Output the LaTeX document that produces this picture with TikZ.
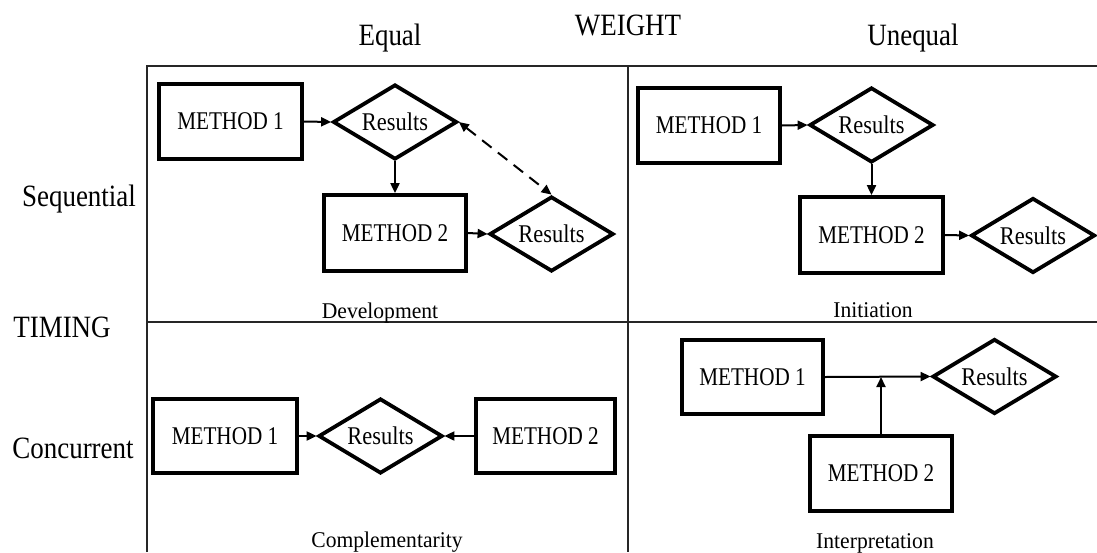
\documentclass[tikz,border=0pt]{standalone}
\usepackage{fontspec}
\setmainfont{Liberation Serif}
\newfontfamily\headfont[FakeStretch=0.87]{Liberation Serif}
\newfontfamily\boxfont[FakeStretch=0.83]{Liberation Serif}
\newfontfamily\resfont[FakeStretch=0.88]{Liberation Serif}
\newfontfamily\capfont[FakeStretch=0.96]{Liberation Serif}
\usetikzlibrary{shapes.geometric,arrows.meta}
\begin{document}
\begin{tikzpicture}[x=1pt,y=-1pt,
  grid/.style={line width=2pt,black!85},
  head/.style={anchor=base,inner sep=0pt,font=\headfont\fontsize{31}{31}\selectfont},
  caption/.style={anchor=base,inner sep=0pt,font=\capfont\fontsize{22.5}{22.5}\selectfont},
  methodbox/.style={draw,line width=3.8pt,rectangle,inner sep=0pt,
    font=\boxfont\fontsize{25.5}{25.5}\selectfont},
  resultbox/.style={draw,line width=3.8pt,diamond,inner sep=0pt,aspect=1.66,
    minimum width=124pt,minimum height=75pt,
    font=\resfont\fontsize{25.5}{25.5}\selectfont},
  flow/.style={line width=2pt,-{Triangle[length=10pt,width=9pt]}},
  twoway/.style={line width=2pt,dash pattern=on 12pt off 8pt,
    {Triangle[length=10pt,width=9pt]}-{Triangle[length=10pt,width=9pt]}}
]
\useasboundingbox (0,0) rectangle (1097,552);

% matrix frame
\draw[grid] (147,552) -- (147,66) -- (1097,66);
\draw[grid] (628,66) -- (628,552);
\draw[grid] (147,322) -- (1097,322);

% axis headings
\node[head] (weight) at (628,35) {WEIGHT};
\node[head] (equal) at (390,45) {Equal};
\node[head] (unequal) at (913,45) {Unequal};
\node[head] (sequential) at (79,206) {Sequential};
\node[head] (timing) at (62,337) {TIMING};
\node[head] (concurrent) at (73,458) {Concurrent};

% sequential / equal: development
\node[methodbox,minimum width=143pt,minimum height=75pt] (m1a) at (230.5,121.5) {METHOD 1};
\node[resultbox] (r1a) at (395,122) {Results};
\node[methodbox,minimum width=142pt,minimum height=76pt] (m2a) at (395,233) {METHOD 2};
\node[resultbox] (r2a) at (551.5,234) {Results};
\node[caption] (dev) at (380,318) {Development};
\draw[flow] (m1a.east) -- (r1a.west);
\draw[flow] (r1a.south) -- (m2a.north);
\draw[flow] (m2a.east) -- (r2a.west);
\draw[twoway] (r1a.east) -- (r2a.north);

% sequential / unequal: initiation
\node[methodbox,minimum width=142pt,minimum height=75pt] (m1b) at (709,125.5) {METHOD 1};
\node[resultbox] (r1b) at (871.5,125) {Results};
\node[methodbox,minimum width=143pt,minimum height=76pt] (m2b) at (871.5,235) {METHOD 2};
\node[resultbox] (r2b) at (1033,235.5) {Results};
\node[caption] (ini) at (873,317) {Initiation};
\draw[flow] (m1b.east) -- (r1b.west);
\draw[flow] (r1b.south) -- (m2b.north);
\draw[flow] (m2b.east) -- (r2b.west);

% concurrent / equal: complementarity
\node[methodbox,minimum width=144pt,minimum height=74pt] (m1c) at (225,436) {METHOD 1};
\node[resultbox] (r1c) at (380.5,436) {Results};
\node[methodbox,minimum width=139pt,minimum height=74pt] (m2c) at (545.5,436) {METHOD 2};
\node[caption] (comp) at (387,547) {Complementarity};
\draw[flow] (m1c.east) -- (r1c.west);
\draw[flow] (m2c.west) -- (r1c.east);

% concurrent / unequal: interpretation
\node[methodbox,minimum width=141pt,minimum height=74pt] (m1d) at (752.5,377) {METHOD 1};
\node[resultbox] (r1d) at (994.5,376.5) {Results};
\node[methodbox,minimum width=142pt,minimum height=75pt] (m2d) at (881,473.5) {METHOD 2};
\node[caption] (interp) at (875,548) {Interpretation};
\draw[flow] (m1d.east) -- (r1d.west);
\coordinate (join) at (m2d.north |- m1d.east);
\draw[flow] (m2d.north) -- (join);
\end{tikzpicture}
\end{document}
